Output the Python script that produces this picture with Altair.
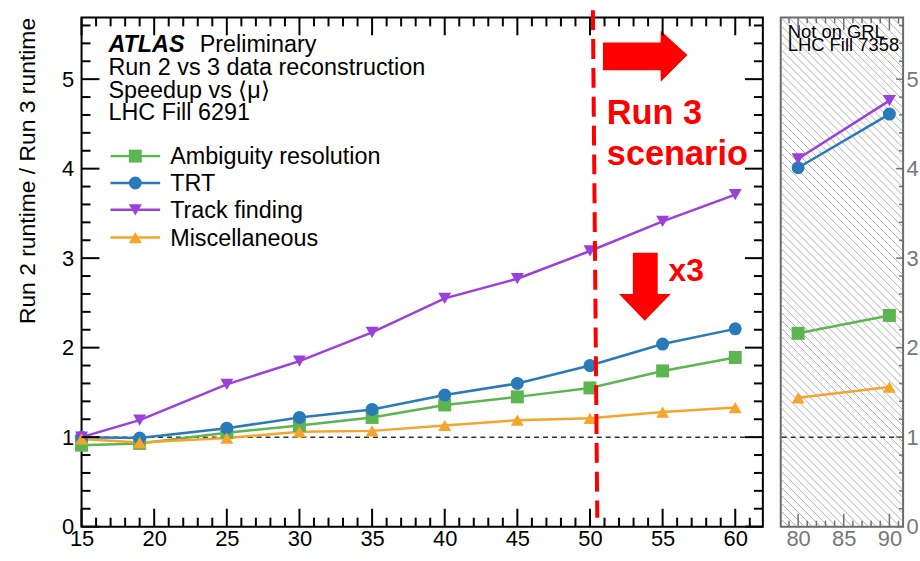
import altair as alt
import numpy as np
import pandas as pd

# ---------------------------------------------------------------- data
series = ["Ambiguity resolution", "TRT", "Track finding", "Miscellaneous"]
colors = ["#5db551", "#2a79b8", "#9b40da", "#f7a42c"]
shapes = ["square", "circle", "triangle-down", "triangle-up"]

# <mu> scan, LHC Fill 6291
mu = [15, 19, 25, 30, 35, 40, 45, 50, 55, 60]
ambiguity = [0.91, 0.93, 1.05, 1.13, 1.22, 1.36, 1.45, 1.55, 1.74, 1.89]
trt = [1.00, 0.99, 1.10, 1.22, 1.31, 1.47, 1.60, 1.80, 2.04, 2.21]
track = [1.00, 1.19, 1.59, 1.85, 2.17, 2.55, 2.77, 3.08, 3.41, 3.71]
misc = [0.98, 0.94, 0.99, 1.06, 1.07, 1.13, 1.19, 1.21, 1.28, 1.33]

# high-<mu> points, LHC Fill 7358 (not on GRL)
mu_hi = [80, 90]
ambiguity_hi = [2.16, 2.36]
trt_hi = [4.01, 4.61]
track_hi = [4.11, 4.76]
misc_hi = [1.44, 1.56]

main_df = pd.DataFrame({
    "mu": mu * 4,
    "ratio": ambiguity + trt + track + misc,
    "series": sum([[s] * len(mu) for s in series], []),
})
hi_df = pd.DataFrame({
    "mu": mu_hi * 4,
    "ratio": ambiguity_hi + trt_hi + track_hi + misc_hi,
    "series": sum([[s] * len(mu_hi) for s in series], []),
})

# ---------------------------------------------------------------- layout
W1, W2, H = 685, 123, 512
FONT = "Liberation Sans"
TXT = 23.5
XS1 = alt.Scale(domain=[15, 61.9], nice=False, zero=False)
XS2 = alt.Scale(domain=[78.1, 91.5], nice=False, zero=False)
YS = alt.Scale(domain=[0, 5.69], nice=False, zero=False)
COL = alt.Scale(domain=series, range=colors)
SHP = alt.Scale(domain=series, range=shapes)
y_major = [0, 1, 2, 3, 4, 5]
y_minor = [round(v, 1) for v in np.arange(0.2, 5.65, 0.2) if abs(v - round(v)) > 1e-6]

AX1 = alt.Axis(values=list(range(15, 61, 5)), title=None, labelPadding=2)
AY1 = alt.Axis(values=y_major, title="Run 2 runtime / Run 3 runtime",
               titleAnchor="end", titlePadding=22, titleFontSize=23,
               titleFontWeight="normal", labelPadding=8)
AX2 = alt.Axis(values=[80, 85, 90], title=None, labelColor="#777777", labelPadding=2)
AY2 = alt.Axis(values=y_major, orient="right", title=None,
               labelColor="#777777", labelPadding=3)


class Panel:
    """Shared x/y encodings for the layers of one panel."""

    def __init__(self, xs, ax, ay):
        self.xs, self.ax, self.ay = xs, ax, ay

    def x(self, field):
        return alt.X(field, type="quantitative", scale=self.xs, axis=self.ax)

    def y(self, field):
        return alt.Y(field, type="quantitative", scale=YS, axis=self.ay)


P1 = Panel(XS1, AX1, AY1)
P2 = Panel(XS2, AX2, AY2)


def frame_ticks(p, w, xmaj, xmin, xlen, ylen, color, width, left=True):
    """Inward-pointing ticks on the sides of a panel."""
    layers = []
    for vals, ln in ((xmaj, xlen[0]), (xmin, xlen[1])):
        base = alt.Chart(pd.DataFrame({"v": vals})).mark_rule(color=color, strokeWidth=width)
        layers.append(base.encode(x=p.x("v"), y=alt.value(H), y2=alt.value(H - ln)))
        layers.append(base.encode(x=p.x("v"), y=alt.value(0), y2=alt.value(ln)))
    for vals, ln in ((y_major, ylen[0]), (y_minor, ylen[1])):
        base = alt.Chart(pd.DataFrame({"v": vals})).mark_rule(color=color, strokeWidth=width)
        if left:
            layers.append(base.encode(y=p.y("v"), x=alt.value(0), x2=alt.value(ln)))
        layers.append(base.encode(y=p.y("v"), x=alt.value(w), x2=alt.value(w - ln)))
    return layers


def unity(p):
    return alt.Chart(pd.DataFrame({"r": [1.0]})).mark_rule(
        color="#333333", strokeWidth=1.5, strokeDash=[5, 4]
    ).encode(y=p.y("r"))


def series_layers(p, df):
    lines = alt.Chart(df).mark_line(strokeWidth=2.5).encode(
        x=p.x("mu"), y=p.y("ratio"),
        color=alt.Color("series:N", scale=COL, legend=None),
        detail="series:N",
    )
    pts = alt.Chart(df).mark_point(filled=True, opacity=1, size=170).encode(
        x=p.x("mu"), y=p.y("ratio"),
        color=alt.Color("series:N", scale=COL, legend=None),
        shape=alt.Shape("series:N", scale=SHP, legend=None),
    )
    return [lines, pts]


# ---------------------------------------------------------------- main panel
# Run 3 boundary
boundary = alt.Chart(pd.DataFrame({"x": [50.2], "x2": [50.5], "y": [5.77], "y2": [0.1]})).mark_rule(
    color="#ff0000", strokeWidth=4, strokeDash=[20, 9]
).encode(x=P1.x("x"), x2="x2", y=P1.y("y"), y2="y2")

arrow_right = alt.Chart(pd.DataFrame({
    "x": [50.89, 54.86, 54.87, 56.71],
    "top": [5.41, 5.41, 5.54, 5.27],
    "bot": [5.10, 5.10, 4.97, 5.27],
})).mark_area(color="#ff0000", orient="vertical").encode(
    x=P1.x("x"), y=P1.y("top"), y2="bot")

arrow_down = alt.Chart(pd.DataFrame({
    "y": [3.06, 2.60, 2.599, 2.30],
    "left": [52.95, 52.95, 52.0, 53.77],
    "right": [54.66, 54.66, 55.56, 53.77],
})).mark_area(color="#ff0000", orient="horizontal").encode(
    y=P1.y("y"), x=P1.x("left"), x2="right")

red_text = alt.Chart(pd.DataFrame({
    "x": [51.16, 51.16, 55.41],
    "y": [4.50, 4.044, 2.744],
    "t": ["Run 3", "scenario", "x3"],
    "s": [34.5, 34.5, 32],
})).mark_text(color="#ff0000", fontWeight="bold", font=FONT, align="left",
              baseline="alphabetic").encode(
    x=P1.x("x"), y=P1.y("y"), text="t:N",
    size=alt.Size("s:Q", scale=None, legend=None))

atlas = alt.Chart(pd.DataFrame({"x": [16.85], "y": [5.30], "t": ["ATLAS"]})).mark_text(
    font=FONT, fontSize=TXT, fontWeight="bold", fontStyle="italic", align="left",
    baseline="alphabetic", color="black").encode(x=P1.x("x"), y=P1.y("y"), text="t:N")
info = alt.Chart(pd.DataFrame({
    "x": [23.13, 16.85, 16.85, 16.85],
    "y": [5.30, 5.044, 4.789, 4.544],
    "t": ["Preliminary", "Run 2 vs 3 data reconstruction", "Speedup vs \u27e8\u03bc\u27e9", "LHC Fill 6291"],
})).mark_text(font=FONT, fontSize=TXT, align="left", baseline="alphabetic", color="black").encode(
    x=P1.x("x"), y=P1.y("y"), text="t:N")

# legend
leg = pd.DataFrame({
    "series": series,
    "y": [4.14, 3.84, 3.54, 3.23],
    "x1": [16.99] * 4, "x2": [20.41] * 4, "xm": [18.70] * 4, "xt": [21.10] * 4,
})
leg_line = alt.Chart(leg).mark_rule(strokeWidth=2.5).encode(
    x=P1.x("x1"), x2="x2", y=P1.y("y"),
    color=alt.Color("series:N", scale=COL, legend=None))
leg_pt = alt.Chart(leg).mark_point(filled=True, opacity=1, size=170).encode(
    x=P1.x("xm"), y=P1.y("y"),
    color=alt.Color("series:N", scale=COL, legend=None),
    shape=alt.Shape("series:N", scale=SHP, legend=None))
leg_txt = alt.Chart(leg).mark_text(font=FONT, fontSize=TXT, align="left", baseline="alphabetic",
                                   dy=8, color="black").encode(
    x=P1.x("xt"), y=P1.y("y"), text="series:N")

x_major1 = list(range(15, 61, 5))
x_minor1 = [v for v in range(16, 62) if v % 5]
ticks1 = frame_ticks(P1, W1, x_major1, x_minor1, (18, 9), (18, 9), "black", 2)

main = alt.layer(
    unity(P1), *series_layers(P1, main_df), boundary, arrow_right, arrow_down, red_text,
    atlas, info, leg_line, leg_pt, leg_txt, *ticks1
).properties(
    width=W1, height=H,
    view=alt.ViewBackground(stroke="black", strokeWidth=2),
)

# ---------------------------------------------------------------- high-<mu> panel
# diagonal hatching across the panel
kx = W2 / (XS2.domain[1] - XS2.domain[0])
offs = np.arange(-H, W2 + 8, 8.0)
hatch = pd.DataFrame({
    "x": XS2.domain[0] + offs / kx,
    "x2": XS2.domain[0] + (offs + H) / kx,
    "y": [YS.domain[1]] * len(offs),
    "y2": [0.0] * len(offs),
})
hatch_layer = alt.Chart(hatch).mark_rule(color="#9a9a9a", strokeWidth=0.8, clip=True).encode(
    x=P2.x("x"), x2="x2", y=P2.y("y"), y2="y2")

grl = alt.Chart(pd.DataFrame({
    "x": [78.86, 78.86], "y": [5.46, 5.315], "t": ["Not on GRL", "LHC Fill 7358"],
})).mark_text(font=FONT, fontSize=18.5, align="left", baseline="alphabetic", color="black").encode(
    x=P2.x("x"), y=P2.y("y"), text="t:N")

x_major2 = [80, 85, 90]
x_minor2 = [v for v in range(79, 92) if v % 5]
ticks2 = frame_ticks(P2, W2, x_major2, x_minor2, (13, 6), (7, 4), "#707070", 1.5, left=False)

side = alt.layer(
    hatch_layer, unity(P2), *series_layers(P2, hi_df), grl, *ticks2
).properties(
    width=W2, height=H,
    view=alt.ViewBackground(stroke="#6a6a6a", strokeWidth=2),
)

chart = alt.hconcat(main, side, spacing=14).properties(
    padding={"left": 15, "top": 5, "right": 0, "bottom": 0},
).configure_axis(
    grid=False, domain=False, ticks=False, tickSize=0, labelFlush=False,
    labelFont=FONT, labelFontSize=22, labelColor="black",
    titleFont=FONT, titleColor="black",
)

chart.save("out.html", embed_options={"renderer": "svg", "actions": False})
